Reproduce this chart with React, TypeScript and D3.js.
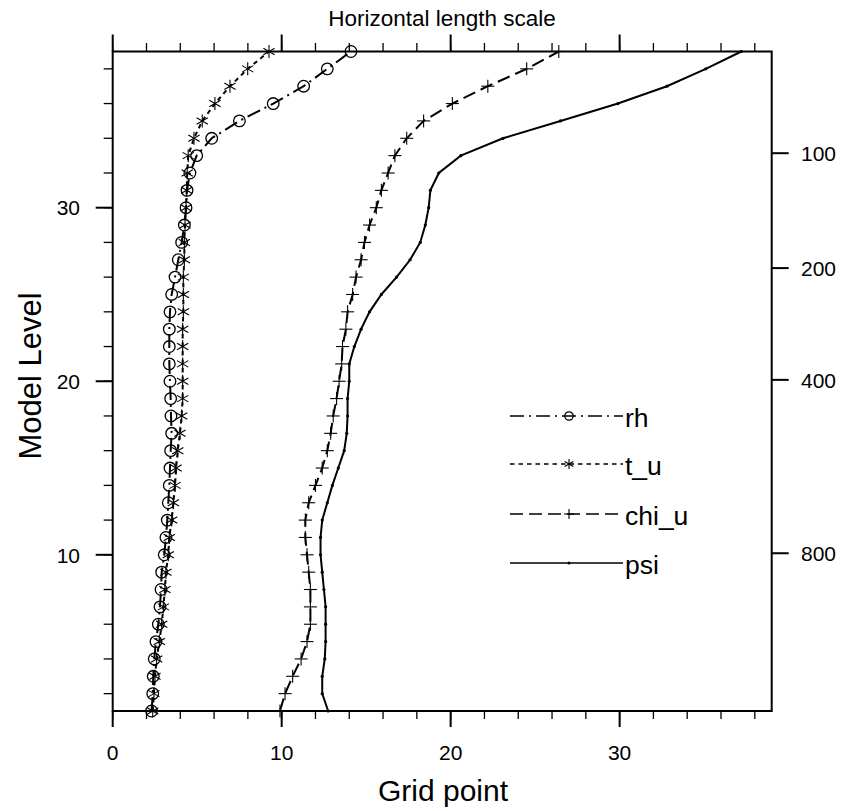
import React from "react";
import * as d3 from "d3";

const levels = d3.range(1, 40);
const rh = [2.3, 2.37, 2.4, 2.46, 2.56, 2.7, 2.8, 2.86, 2.9, 3.05, 3.15, 3.23, 3.29, 3.35, 3.39, 3.43, 3.49, 3.45, 3.43, 3.39, 3.35, 3.35, 3.35, 3.39, 3.49, 3.69, 3.88, 4.08, 4.24, 4.34, 4.4, 4.57, 4.97, 5.86, 7.5, 9.5, 11.3, 12.7, 14.1];
const t_u = [2.37, 2.44, 2.5, 2.6, 2.76, 2.9, 3.0, 3.09, 3.15, 3.29, 3.35, 3.49, 3.59, 3.69, 3.75, 3.85, 3.98, 4.08, 4.14, 4.14, 4.14, 4.14, 4.14, 4.18, 4.18, 4.18, 4.24, 4.24, 4.28, 4.34, 4.38, 4.41, 4.47, 4.81, 5.3, 6.05, 6.94, 7.99, 9.25];
const chi_u = [9.9, 10.2, 10.65, 11.15, 11.5, 11.7, 11.7, 11.7, 11.6, 11.5, 11.4, 11.4, 11.6, 12.0, 12.4, 12.7, 12.9, 13.05, 13.25, 13.4, 13.55, 13.6, 13.8, 13.9, 14.2, 14.4, 14.7, 14.9, 15.2, 15.6, 15.9, 16.3, 16.7, 17.4, 18.4, 20.1, 22.2, 24.5, 26.4];
const psi = [12.75, 12.4, 12.4, 12.55, 12.6, 12.6, 12.6, 12.5, 12.4, 12.3, 12.3, 12.4, 12.7, 13.0, 13.35, 13.7, 13.85, 13.9, 13.9, 14.0, 14.0, 14.3, 14.7, 15.2, 15.9, 16.8, 17.6, 18.2, 18.5, 18.7, 18.8, 19.3, 20.6, 23.1, 26.5, 29.9, 32.8, 35.1, 37.2];

const seriesNames = ["rh", "t_u", "chi_u", "psi"];
const xMajor = [0, 10, 20, 30];
const yMajor = [10, 20, 30];
const pressureLabels = [100, 200, 400, 800];
const pressureLevels = [33.14, 26.52, 20.08, 10.09];

const FONT = "'Liberation Sans', Arial, Helvetica, sans-serif";

type MarkerKind = "circle" | "star" | "plus" | "dot";

function Marker({ kind, x, y, s }: { kind: MarkerKind; x: number; y: number; s: number }) {
  if (kind === "circle") return <circle cx={x} cy={y} r={s} fill="none" stroke="#000" strokeWidth={1.3} />;
  if (kind === "dot") return <circle cx={x} cy={y} r={s} fill="#000" />;
  if (kind === "plus")
    return (
      <g stroke="#000" strokeWidth={1.1}>
        <line x1={x - s} y1={y} x2={x + s} y2={y} />
        <line x1={x} y1={y - s} x2={x} y2={y + s} />
      </g>
    );
  const a = s * Math.sin(Math.PI / 3);
  const b = s * Math.cos(Math.PI / 3);
  return (
    <g stroke="#000" strokeWidth={1.1}>
      <line x1={x} y1={y - s} x2={x} y2={y + s} />
      <line x1={x - a} y1={y - b} x2={x + a} y2={y + b} />
      <line x1={x - a} y1={y + b} x2={x + a} y2={y - b} />
    </g>
  );
}

export default function App() {
  const x = d3.scaleLinear().domain([0, 39]).range([112.7, 771.7]);
  const y = d3.scaleLinear().domain([1, 39]).range([711, 51.5]);
  const [x0, x1] = x.range();
  const yb = y(1);
  const yt = y(39);

  const series = [
    { name: seriesNames[0], data: rh, dash: "14,5,2,5", marker: "circle" as MarkerKind, ms: 5.8, lms: 4.2 },
    { name: seriesNames[1], data: t_u, dash: "4.5,4", marker: "star" as MarkerKind, ms: 6.5, lms: 5 },
    { name: seriesNames[2], data: chi_u, dash: "13,6", marker: "plus" as MarkerKind, ms: 6.5, lms: 5 },
    { name: seriesNames[3], data: psi, dash: undefined, marker: "dot" as MarkerKind, ms: 1.6, lms: 1.5 },
  ];

  const line = d3
    .line<[number, number]>()
    .x((d) => x(d[0]))
    .y((d) => y(d[1]));

  const xMinor = d3.range(0, 39, 2);
  const yMinor = d3.range(2, 39, 2);

  const legendY = [416, 464, 514, 563];
  const lgX0 = 510;
  const lgX1 = 623;
  const lgM = 569;

  return (
    <svg
      width={846}
      height={811}
      style={{ position: "absolute", left: 0, top: 0, background: "#fff" }}
      fontFamily={FONT}
    >
      <rect width={846} height={811} fill="#fff" />
      {series.map((s) => {
        const pts = levels.map((L, i) => [s.data[i], L] as [number, number]);
        return (
          <g key={s.name}>
            <path d={line(pts) || ""} fill="none" stroke="#000" strokeWidth={2} strokeDasharray={s.dash} />
            {pts.map((p, i) => (
              <Marker key={i} kind={s.marker} x={x(p[0])} y={y(p[1])} s={s.ms} />
            ))}
          </g>
        );
      })}
      <rect x={x0} y={yt} width={x1 - x0} height={yb - yt} fill="none" stroke="#000" strokeWidth={2} />
      <g stroke="#000" strokeWidth={1.3}>
        {xMinor.map((v) => (
          <g key={"xm" + v}>
            <line x1={x(v)} x2={x(v)} y1={yb} y2={yb + 8} />
            <line x1={x(v)} x2={x(v)} y1={yt} y2={yt - 8.5} />
          </g>
        ))}
        {yMinor.map((v) => (
          <line key={"ym" + v} x1={x0} x2={x0 - 9} y1={y(v)} y2={y(v)} />
        ))}
      </g>
      <g stroke="#000" strokeWidth={2}>
        {xMajor.map((v) => (
          <g key={"xM" + v}>
            <line x1={x(v)} x2={x(v)} y1={yb} y2={yb + 16} />
            <line x1={x(v)} x2={x(v)} y1={yt} y2={yt - 17} />
          </g>
        ))}
        {yMajor.map((v) => (
          <line key={"yM" + v} x1={x0} x2={x0 - 17} y1={y(v)} y2={y(v)} />
        ))}
        {pressureLevels.map((v) => (
          <line key={"p" + v} x1={x1} x2={x1 + 17} y1={y(v)} y2={y(v)} />
        ))}
      </g>
      <g fontSize={21} fill="#000">
        {xMajor.map((v) => (
          <text key={"xl" + v} x={x(v)} y={760} textAnchor="middle">
            {v}
          </text>
        ))}
        {yMajor.map((v) => (
          <text key={"yl" + v} x={80} y={y(v) + 7.8} textAnchor="end">
            {v}
          </text>
        ))}
        {pressureLabels.map((p, i) => (
          <text key={"pl" + p} x={801} y={y(pressureLevels[i]) + 7.8} textAnchor="start">
            {p}
          </text>
        ))}
      </g>
      <text x={442} y={26} fontSize={22.5} textAnchor="middle">
        Horizontal length scale
      </text>
      <text x={443} y={801} fontSize={30} textAnchor="middle">
        Grid point
      </text>
      <text transform={`translate(41,376) rotate(-90)`} fontSize={31} textAnchor="middle">
        Model Level
      </text>
      {series.map((s, i) => (
        <g key={"lg" + s.name}>
          <line
            x1={lgX0}
            x2={lgX1}
            y1={legendY[i]}
            y2={legendY[i]}
            stroke="#000"
            strokeWidth={1.6}
            strokeDasharray={s.dash}
          />
          <Marker kind={s.marker} x={lgM} y={legendY[i]} s={s.lms} />
          <text x={lgX1 + 2} y={legendY[i] + 11} fontSize={26.5}>
            {s.name}
          </text>
        </g>
      ))}
    </svg>
  );
}
